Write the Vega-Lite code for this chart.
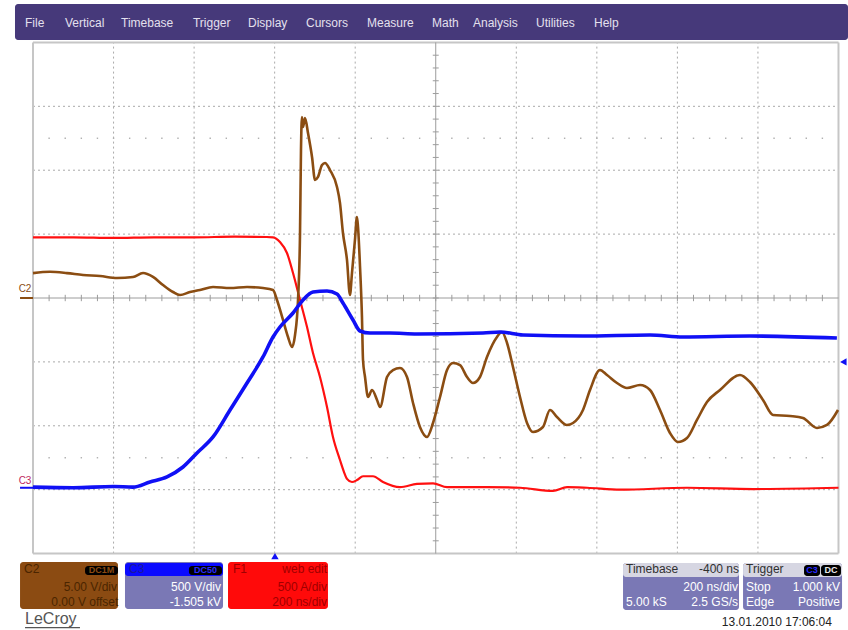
{
"$schema": "https://vega.github.io/schema/vega-lite/v6.json",
"width": 848, "height": 630,
"autosize": {"type": "fit", "contains": "padding"},
"padding": 0,
"background": "white",
"config": {"view": {"stroke": null}, "text": {"font": "Liberation Sans"}},
"resolve": {"scale": {"color": "independent", "shape": "independent"}},
"datasets": {
"panels": [
{"part":"menu","t":-0.2235,"t2":10.118,"v":4.601,"v2":4.0376},
{"part":"c2","t":-0.161,"t2":1.055,"v":-4.131,"v2":-4.867},
{"part":"badge","t":0.646,"t2":1.055,"v":-4.194,"v2":-4.335},
{"part":"grey","t":1.142,"t2":2.359,"v":-4.131,"v2":-4.867},
{"part":"c3","t":1.142,"t2":2.359,"v":-4.147,"v2":-4.351},
{"part":"badge","t":1.936,"t2":2.346,"v":-4.194,"v2":-4.335},
{"part":"f1","t":2.421,"t2":3.662,"v":-4.131,"v2":-4.867},
{"part":"grey","t":7.325,"t2":8.765,"v":-4.147,"v2":-4.883},
{"part":"head","t":7.325,"t2":8.765,"v":-4.147,"v2":-4.366},
{"part":"grey","t":8.815,"t2":10.044,"v":-4.147,"v2":-4.883},
{"part":"head","t":8.815,"t2":10.044,"v":-4.147,"v2":-4.366},
{"part":"badge","t":9.572,"t2":9.771,"v":-4.178,"v2":-4.351},
{"part":"badge","t":9.783,"t2":10.031,"v":-4.178,"v2":-4.351}
],
"grid": [
{"t":1,"t2":1,"v":-4,"v2":4},{"t":2,"t2":2,"v":-4,"v2":4},{"t":3,"t2":3,"v":-4,"v2":4},{"t":4,"t2":4,"v":-4,"v2":4},
{"t":6,"t2":6,"v":-4,"v2":4},{"t":7,"t2":7,"v":-4,"v2":4},{"t":8,"t2":8,"v":-4,"v2":4},{"t":9,"t2":9,"v":-4,"v2":4},
{"t":0,"t2":10,"v":3,"v2":3},{"t":0,"t2":10,"v":2,"v2":2},{"t":0,"t2":10,"v":1,"v2":1},
{"t":0,"t2":10,"v":-1,"v2":-1},{"t":0,"t2":10,"v":-2,"v2":-2},{"t":0,"t2":10,"v":-3,"v2":-3}
],
"frame": [
{"t":0,"t2":0,"v":-4,"v2":4},{"t":10,"t2":10,"v":-4,"v2":4},
{"t":0,"t2":10,"v":4,"v2":4},{"t":0,"t2":10,"v":-4,"v2":-4}
],
"center": [
{"t":5,"t2":5,"v":-4,"v2":4},{"t":0,"t2":10,"v":0,"v2":0}
],
"tx": [
{"t":0.2},{"t":0.4},{"t":0.6},{"t":0.8},{"t":1},{"t":1.2},{"t":1.4},{"t":1.6},{"t":1.8},{"t":2},
{"t":2.2},{"t":2.4},{"t":2.6},{"t":2.8},{"t":3},{"t":3.2},{"t":3.4},{"t":3.6},{"t":3.8},{"t":4},
{"t":4.2},{"t":4.4},{"t":4.6},{"t":4.8},{"t":5},{"t":5.2},{"t":5.4},{"t":5.6},{"t":5.8},{"t":6},
{"t":6.2},{"t":6.4},{"t":6.6},{"t":6.8},{"t":7},{"t":7.2},{"t":7.4},{"t":7.6},{"t":7.8},{"t":8},
{"t":8.2},{"t":8.4},{"t":8.6},{"t":8.8},{"t":9},{"t":9.2},{"t":9.4},{"t":9.6},{"t":9.8}
],
"ty": [
{"v":-3.8},{"v":-3.6},{"v":-3.4},{"v":-3.2},{"v":-3},{"v":-2.8},{"v":-2.6},{"v":-2.4},{"v":-2.2},{"v":-2},
{"v":-1.8},{"v":-1.6},{"v":-1.4},{"v":-1.2},{"v":-1},{"v":-0.8},{"v":-0.6},{"v":-0.4},{"v":-0.2},{"v":0},
{"v":0.2},{"v":0.4},{"v":0.6},{"v":0.8},{"v":1},{"v":1.2},{"v":1.4},{"v":1.6},{"v":1.8},{"v":2},
{"v":2.2},{"v":2.4},{"v":2.6},{"v":2.8},{"v":3},{"v":3.2},{"v":3.4},{"v":3.6},{"v":3.8}
],
"traces": [
{"ch":"F1","t":0,"v":0.95},{"ch":"F1","t":0.5,"v":0.95},{"ch":"F1","t":1,"v":0.94},{"ch":"F1","t":1.5,"v":0.95},{"ch":"F1","t":2,"v":0.95},{"ch":"F1","t":2.5,"v":0.96},{"ch":"F1","t":2.9,"v":0.955},{"ch":"F1","t":2.98,"v":0.95},{"ch":"F1","t":3.066,"v":0.876},{"ch":"F1","t":3.153,"v":0.704},{"ch":"F1","t":3.228,"v":0.391},{"ch":"F1","t":3.315,"v":-0.031},{"ch":"F1","t":3.402,"v":-0.454},{"ch":"F1","t":3.476,"v":-0.861},{"ch":"F1","t":3.563,"v":-1.236},{"ch":"F1","t":3.65,"v":-1.706},{"ch":"F1","t":3.724,"v":-2.175},{"ch":"F1","t":3.811,"v":-2.535},{"ch":"F1","t":3.86,"v":-2.72},{"ch":"F1","t":3.898,"v":-2.83},{"ch":"F1","t":3.96,"v":-2.88},{"ch":"F1","t":4.022,"v":-2.85},{"ch":"F1","t":4.097,"v":-2.79},{"ch":"F1","t":4.221,"v":-2.79},{"ch":"F1","t":4.345,"v":-2.88},{"ch":"F1","t":4.556,"v":-2.96},{"ch":"F1","t":4.767,"v":-2.91},{"ch":"F1","t":4.966,"v":-2.9},{"ch":"F1","t":5.14,"v":-2.96},{"ch":"F1","t":5.636,"v":-2.96},{"ch":"F1","t":6.046,"v":-2.97},{"ch":"F1","t":6.456,"v":-3.02},{"ch":"F1","t":6.63,"v":-2.96},{"ch":"F1","t":6.88,"v":-2.97},{"ch":"F1","t":7.29,"v":-3.0},{"ch":"F1","t":8.12,"v":-2.97},{"ch":"F1","t":8.94,"v":-2.99},{"ch":"F1","t":10,"v":-2.97},
{"ch":"C3","t":0,"v":-2.96},{"ch":"C3","t":0.5,"v":-2.97},{"ch":"C3","t":1,"v":-2.95},{"ch":"C3","t":1.241,"v":-2.96},{"ch":"C3","t":1.452,"v":-2.88},{"ch":"C3","t":1.664,"v":-2.8},{"ch":"C3","t":1.862,"v":-2.645},{"ch":"C3","t":2.036,"v":-2.426},{"ch":"C3","t":2.235,"v":-2.175},{"ch":"C3","t":2.446,"v":-1.753},{"ch":"C3","t":2.657,"v":-1.33},{"ch":"C3","t":2.855,"v":-0.923},{"ch":"C3","t":2.98,"v":-0.61},{"ch":"C3","t":3.066,"v":-0.454},{"ch":"C3","t":3.228,"v":-0.235},{"ch":"C3","t":3.352,"v":-0.031},{"ch":"C3","t":3.476,"v":0.094},{"ch":"C3","t":3.65,"v":0.11},{"ch":"C3","t":3.774,"v":0.063},{"ch":"C3","t":3.848,"v":-0.078},{"ch":"C3","t":3.973,"v":-0.344},{"ch":"C3","t":4.06,"v":-0.516},{"ch":"C3","t":4.184,"v":-0.548},{"ch":"C3","t":4.432,"v":-0.548},{"ch":"C3","t":4.767,"v":-0.563},{"ch":"C3","t":5.587,"v":-0.548},{"ch":"C3","t":5.798,"v":-0.532},{"ch":"C3","t":6.083,"v":-0.579},{"ch":"C3","t":6.828,"v":-0.595},{"ch":"C3","t":7.66,"v":-0.579},{"ch":"C3","t":8.07,"v":-0.61},{"ch":"C3","t":8.9,"v":-0.595},{"ch":"C3","t":9.98,"v":-0.626},
{"ch":"C2","t":0,"v":0.39},{"ch":"C2","t":0.211,"v":0.41},{"ch":"C2","t":0.422,"v":0.39},{"ch":"C2","t":0.621,"v":0.36},{"ch":"C2","t":0.832,"v":0.344},{"ch":"C2","t":1.043,"v":0.313},{"ch":"C2","t":1.241,"v":0.329},{"ch":"C2","t":1.366,"v":0.391},{"ch":"C2","t":1.49,"v":0.329},{"ch":"C2","t":1.614,"v":0.203},{"ch":"C2","t":1.738,"v":0.094},{"ch":"C2","t":1.825,"v":0.047},{"ch":"C2","t":1.949,"v":0.094},{"ch":"C2","t":2.073,"v":0.125},{"ch":"C2","t":2.235,"v":0.172},{"ch":"C2","t":2.446,"v":0.156},{"ch":"C2","t":2.657,"v":0.172},{"ch":"C2","t":2.855,"v":0.156},{"ch":"C2","t":2.98,"v":0.125},{"ch":"C2","t":3.029,"v":-0.031},{"ch":"C2","t":3.104,"v":-0.344},{"ch":"C2","t":3.166,"v":-0.61},{"ch":"C2","t":3.215,"v":-0.767},{"ch":"C2","t":3.253,"v":-0.579},{"ch":"C2","t":3.29,"v":-0.031},{"ch":"C2","t":3.315,"v":1.017},{"ch":"C2","t":3.327,"v":2.316},{"ch":"C2","t":3.339,"v":2.833},{"ch":"C2","t":3.352,"v":2.676},{"ch":"C2","t":3.377,"v":2.817},{"ch":"C2","t":3.414,"v":2.582},{"ch":"C2","t":3.464,"v":2.207},{"ch":"C2","t":3.501,"v":1.847},{"ch":"C2","t":3.538,"v":1.894},{"ch":"C2","t":3.588,"v":2.081},{"ch":"C2","t":3.625,"v":2.113},{"ch":"C2","t":3.687,"v":2.003},{"ch":"C2","t":3.774,"v":1.737},{"ch":"C2","t":3.811,"v":1.487},{"ch":"C2","t":3.848,"v":1.017},{"ch":"C2","t":3.898,"v":0.595},{"ch":"C2","t":3.935,"v":0.047},{"ch":"C2","t":3.96,"v":0.391},{"ch":"C2","t":3.997,"v":0.908},{"ch":"C2","t":4.022,"v":1.268},{"ch":"C2","t":4.035,"v":1.111},{"ch":"C2","t":4.06,"v":0.485},{"ch":"C2","t":4.084,"v":-0.297},{"ch":"C2","t":4.097,"v":-0.97},{"ch":"C2","t":4.122,"v":-1.236},{"ch":"C2","t":4.159,"v":-1.549},{"ch":"C2","t":4.209,"v":-1.44},{"ch":"C2","t":4.271,"v":-1.596},{"ch":"C2","t":4.308,"v":-1.706},{"ch":"C2","t":4.395,"v":-1.236},{"ch":"C2","t":4.469,"v":-1.127},{"ch":"C2","t":4.556,"v":-1.095},{"ch":"C2","t":4.643,"v":-1.236},{"ch":"C2","t":4.718,"v":-1.643},{"ch":"C2","t":4.804,"v":-2.019},{"ch":"C2","t":4.891,"v":-2.175},{"ch":"C2","t":4.966,"v":-1.956},{"ch":"C2","t":5.053,"v":-1.549},{"ch":"C2","t":5.14,"v":-1.127},{"ch":"C2","t":5.214,"v":-1.017},{"ch":"C2","t":5.301,"v":-1.049},{"ch":"C2","t":5.388,"v":-1.236},{"ch":"C2","t":5.462,"v":-1.33},{"ch":"C2","t":5.549,"v":-1.236},{"ch":"C2","t":5.636,"v":-0.923},{"ch":"C2","t":5.76,"v":-0.61},{"ch":"C2","t":5.822,"v":-0.532},{"ch":"C2","t":5.885,"v":-0.704},{"ch":"C2","t":5.959,"v":-1.08},{"ch":"C2","t":6.046,"v":-1.549},{"ch":"C2","t":6.133,"v":-1.956},{"ch":"C2","t":6.207,"v":-2.097},{"ch":"C2","t":6.331,"v":-2.019},{"ch":"C2","t":6.418,"v":-1.753},{"ch":"C2","t":6.505,"v":-1.862},{"ch":"C2","t":6.629,"v":-1.987},{"ch":"C2","t":6.704,"v":-1.956},{"ch":"C2","t":6.828,"v":-1.753},{"ch":"C2","t":6.915,"v":-1.44},{"ch":"C2","t":7.039,"v":-1.127},{"ch":"C2","t":7.126,"v":-1.205},{"ch":"C2","t":7.25,"v":-1.33},{"ch":"C2","t":7.374,"v":-1.408},{"ch":"C2","t":7.536,"v":-1.362},{"ch":"C2","t":7.66,"v":-1.44},{"ch":"C2","t":7.784,"v":-1.753},{"ch":"C2","t":7.908,"v":-2.113},{"ch":"C2","t":8.007,"v":-2.254},{"ch":"C2","t":8.119,"v":-2.191},{"ch":"C2","t":8.243,"v":-1.909},{"ch":"C2","t":8.367,"v":-1.628},{"ch":"C2","t":8.529,"v":-1.44},{"ch":"C2","t":8.777,"v":-1.205},{"ch":"C2","t":8.901,"v":-1.315},{"ch":"C2","t":9.063,"v":-1.596},{"ch":"C2","t":9.187,"v":-1.831},{"ch":"C2","t":9.398,"v":-1.847},{"ch":"C2","t":9.559,"v":-1.878},{"ch":"C2","t":9.733,"v":-2.034},{"ch":"C2","t":9.857,"v":-1.987},{"ch":"C2","t":9.994,"v":-1.753}
],
"refs": [
{"ch":"C2","t":-0.161,"t2":0,"v":0},
{"ch":"C3","t":-0.161,"t2":0,"v":-2.97}
],
"trig": [
{"what":"position","t":3.004,"v":-4.04},
{"what":"level","t":10.06,"v":-1.0}
],
"menu": [
{"label":"File","t":-0.099,"v":4.304},{"label":"Vertical","t":0.397,"v":4.304},{"label":"Timebase","t":1.0925,"v":4.304},
{"label":"Trigger","t":1.986,"v":4.304},{"label":"Display","t":2.669,"v":4.304},{"label":"Cursors","t":3.389,"v":4.304},
{"label":"Measure","t":4.146,"v":4.304},{"label":"Math","t":4.953,"v":4.304},{"label":"Analysis","t":5.462,"v":4.304},
{"label":"Utilities","t":6.245,"v":4.304},{"label":"Help","t":6.965,"v":4.304}
],
"leftText": [
{"label":"C2","tone":"c2","t":-0.112,"v":-4.241},
{"label":"C3","tone":"c3","t":1.192,"v":-4.241},
{"label":"F1","tone":"f1","t":2.483,"v":-4.241},
{"label":"Timebase","tone":"head","t":7.362,"v":-4.241},
{"label":"5.00 kS","tone":"white","t":7.362,"v":-4.757},
{"label":"Trigger","tone":"head","t":8.852,"v":-4.241},
{"label":"Stop","tone":"white","t":8.852,"v":-4.523},
{"label":"Edge","tone":"white","t":8.852,"v":-4.757}
],
"rightText": [
{"label":"5.00 V/div","tone":"c2","t":1.043,"v":-4.523},
{"label":"0.00 V offset","tone":"c2","t":1.06,"v":-4.757},
{"label":"500 V/div","tone":"white","t":2.334,"v":-4.523},
{"label":"-1.505 kV","tone":"white","t":2.334,"v":-4.757},
{"label":"web edit","tone":"f1","t":3.65,"v":-4.241},
{"label":"500 A/div","tone":"f1","t":3.65,"v":-4.523},
{"label":"200 ns/div","tone":"f1","t":3.65,"v":-4.757},
{"label":"-400 ns","tone":"head","t":8.765,"v":-4.241},
{"label":"200 ns/div","tone":"white","t":8.752,"v":-4.523},
{"label":"2.5 GS/s","tone":"white","t":8.752,"v":-4.757},
{"label":"1.000 kV","tone":"white","t":10.019,"v":-4.523},
{"label":"Positive","tone":"white","t":10.019,"v":-4.757}
],
"badges": [
{"label":"DC1M","tone":"c2","t":0.850,"v":-4.264},
{"label":"DC50","tone":"c3","t":2.141,"v":-4.264},
{"label":"C3","tone":"c3","t":9.671,"v":-4.264},
{"label":"DC","tone":"white","t":9.907,"v":-4.264}
],
"chanLabels": [
{"label":"C2","tone":"c2","t":-0.099,"v":0.14},
{"label":"C3","tone":"c3","t":-0.099,"v":-2.86}
],
"brand": [{"label":"LeCroy","t":-0.099,"v":-5.03}],
"brandLine": [{"t":-0.099,"t2":0.583,"v":-5.16}],
"stamp": [{"label":"13.01.2010 17:06:04","t":9.919,"v":-5.07}]
},
"layer": [
{"data":{"name":"panels"},"mark":{"type":"rect","cornerRadius":3},
 "encoding":{
  "x":{"field":"t","type":"quantitative","scale":{"domain":[-0.4097,10.118],"nice":false,"zero":false},"axis":null},
  "x2":{"field":"t2"},
  "y":{"field":"v","type":"quantitative","scale":{"domain":[-5.196,4.664],"nice":false,"zero":false},"axis":null},
  "y2":{"field":"v2"},
  "color":{"field":"part","type":"nominal","legend":null,
   "scale":{"domain":["menu","c2","badge","grey","c3","f1","head"],"range":["#46397a","#8b4b12","#000000","#7a78b5","#0a0aff","#ff0a0a","#d6d6e2"]}}}},
{"data":{"name":"grid"},"mark":{"type":"rule","color":"#aaaaaa","strokeWidth":1,"strokeDash":[2,3]},
 "encoding":{"x":{"field":"t","type":"quantitative"},"x2":{"field":"t2"},"y":{"field":"v","type":"quantitative"},"y2":{"field":"v2"}}},
{"data":{"name":"frame"},"mark":{"type":"rule","color":"#c6c6c6","strokeWidth":2},
 "encoding":{"x":{"field":"t","type":"quantitative"},"x2":{"field":"t2"},"y":{"field":"v","type":"quantitative"},"y2":{"field":"v2"}}},
{"data":{"name":"center"},"mark":{"type":"rule","color":"#9c9c9c","strokeWidth":1},
 "encoding":{"x":{"field":"t","type":"quantitative"},"x2":{"field":"t2"},"y":{"field":"v","type":"quantitative"},"y2":{"field":"v2"}}},
{"data":{"name":"tx"},"mark":{"type":"rule","color":"#9c9c9c","strokeWidth":1},
 "encoding":{"x":{"field":"t","type":"quantitative"},"y":{"datum":-0.05},"y2":{"datum":0.05}}},
{"data":{"name":"ty"},"mark":{"type":"rule","color":"#9c9c9c","strokeWidth":1},
 "encoding":{"y":{"field":"v","type":"quantitative"},"x":{"datum":4.963},"x2":{"datum":5.037}}},
{"data":{"name":"tx"},"mark":{"type":"square","size":2,"color":"#b0b0b0","opacity":1},
 "encoding":{"x":{"field":"t","type":"quantitative"},"y":{"datum":2.5}}},
{"data":{"name":"tx"},"mark":{"type":"square","size":2,"color":"#b0b0b0","opacity":1},
 "encoding":{"x":{"field":"t","type":"quantitative"},"y":{"datum":-2.5}}},
{"data":{"name":"traces"},"transform":[{"filter":"datum.ch === 'F1'"}],
 "mark":{"type":"line","color":"#ff1010","strokeWidth":2.2,"interpolate":"monotone"},
 "encoding":{"x":{"field":"t","type":"quantitative"},"y":{"field":"v","type":"quantitative"}}},
{"data":{"name":"traces"},"transform":[{"filter":"datum.ch === 'C2'"}],
 "mark":{"type":"line","color":"#8b4d12","strokeWidth":2.6,"interpolate":"monotone"},
 "encoding":{"x":{"field":"t","type":"quantitative"},"y":{"field":"v","type":"quantitative"}}},
{"data":{"name":"traces"},"transform":[{"filter":"datum.ch === 'C3'"}],
 "mark":{"type":"line","color":"#1010f5","strokeWidth":3.6,"interpolate":"monotone"},
 "encoding":{"x":{"field":"t","type":"quantitative"},"y":{"field":"v","type":"quantitative"}}},
{"data":{"name":"refs"},"mark":{"type":"rule","strokeWidth":2},
 "encoding":{"x":{"field":"t","type":"quantitative"},"x2":{"field":"t2"},"y":{"field":"v","type":"quantitative"},
  "color":{"field":"ch","type":"nominal","legend":null,"scale":{"domain":["C2","C3"],"range":["#8b4d12","#1010f5"]}}}},
{"data":{"name":"trig"},"mark":{"type":"point","filled":true,"size":55,"color":"#1010f5","opacity":1},
 "encoding":{"x":{"field":"t","type":"quantitative"},"y":{"field":"v","type":"quantitative"},
  "shape":{"field":"what","type":"nominal","legend":null,"scale":{"domain":["position","level"],"range":["triangle-up","triangle-left"]}}}},
{"data":{"name":"menu"},"mark":{"type":"text","align":"left","baseline":"middle","fontSize":12,"color":"#e4e0ee","font":"Liberation Sans"},
 "encoding":{"x":{"field":"t","type":"quantitative"},"y":{"field":"v","type":"quantitative"},"text":{"field":"label"}}},
{"data":{"name":"leftText"},"mark":{"type":"text","align":"left","baseline":"middle","fontSize":12,"font":"Liberation Sans"},
 "encoding":{"x":{"field":"t","type":"quantitative"},"y":{"field":"v","type":"quantitative"},"text":{"field":"label"},
  "color":{"field":"tone","type":"nominal","legend":null,"scale":{"domain":["c2","c3","f1","head","white"],"range":["#4a2500","#1a1a9a","#a00000","#303030","#ffffff"]}}}},
{"data":{"name":"rightText"},"mark":{"type":"text","align":"right","baseline":"middle","fontSize":12,"font":"Liberation Sans"},
 "encoding":{"x":{"field":"t","type":"quantitative"},"y":{"field":"v","type":"quantitative"},"text":{"field":"label"},
  "color":{"field":"tone","type":"nominal","legend":null,"scale":{"domain":["c2","c3","f1","head","white"],"range":["#4a2500","#1a1a9a","#a00000","#303030","#ffffff"]}}}},
{"data":{"name":"badges"},"mark":{"type":"text","align":"center","baseline":"middle","fontSize":9,"fontWeight":"bold","font":"Liberation Sans"},
 "encoding":{"x":{"field":"t","type":"quantitative"},"y":{"field":"v","type":"quantitative"},"text":{"field":"label"},
  "color":{"field":"tone","type":"nominal","legend":null,"scale":{"domain":["c2","c3","white"],"range":["#8b4b12","#2a2aff","#e8e8e8"]}}}},
{"data":{"name":"chanLabels"},"mark":{"type":"text","align":"center","baseline":"middle","fontSize":10,"font":"Liberation Sans"},
 "encoding":{"x":{"field":"t","type":"quantitative"},"y":{"field":"v","type":"quantitative"},"text":{"field":"label"},
  "color":{"field":"tone","type":"nominal","legend":null,"scale":{"domain":["c2","c3"],"range":["#8b4d12","#c02860"]}}}},
{"data":{"name":"brand"},"mark":{"type":"text","align":"left","baseline":"middle","fontSize":16,"color":"#555555","font":"Liberation Sans"},
 "encoding":{"x":{"field":"t","type":"quantitative"},"y":{"field":"v","type":"quantitative"},"text":{"field":"label"}}},
{"data":{"name":"brandLine"},"mark":{"type":"rule","color":"#555555","strokeWidth":1.2},
 "encoding":{"x":{"field":"t","type":"quantitative"},"x2":{"field":"t2"},"y":{"field":"v","type":"quantitative"}}},
{"data":{"name":"stamp"},"mark":{"type":"text","align":"right","baseline":"middle","fontSize":12,"color":"#222222","font":"Liberation Sans"},
 "encoding":{"x":{"field":"t","type":"quantitative"},"y":{"field":"v","type":"quantitative"},"text":{"field":"label"}}}
]
}
